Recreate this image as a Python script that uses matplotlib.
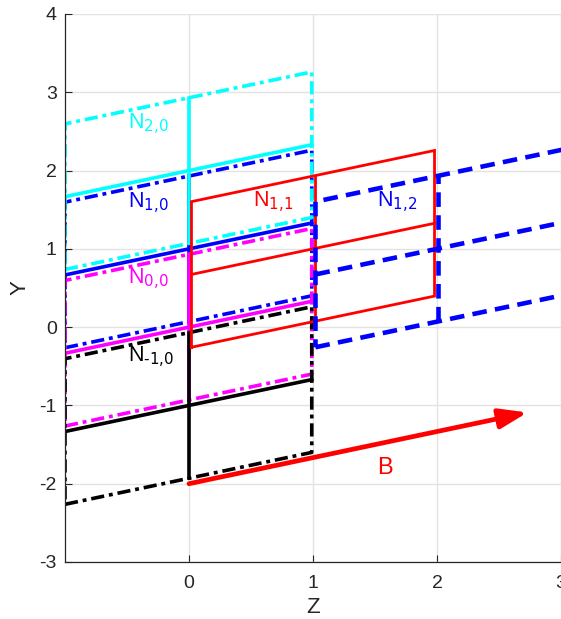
import numpy as np
import matplotlib
matplotlib.use("Agg")
import matplotlib.pyplot as plt

plt.rcParams['font.family'] = ['Liberation Sans', 'DejaVu Sans']
plt.rcParams['mathtext.default'] = 'regular'
plt.rcParams['lines.scale_dashes'] = False
plt.rcParams['axes.unicode_minus'] = False

# ---- data ----
slope = 1.0 / 3.0          # field direction dy/dz
half_h = 0.93              # half height of each cell
cell_i = [1, 2, 0, -1, 1, 1]
cell_j = [0, 0, 0, 0, 1, 2]
cell_colors = ['#0000ff', '#00ffff', '#ff00ff', '#000000', '#ff0000', '#0000ff']
cell_kind = ['dashdot', 'dashdot', 'dashdot', 'dashdot', 'solid', 'dashed']
label_text = [r'$N_{\text{1,0}}$', r'$N_{\text{2,0}}$', r'$N_{\text{0,0}}$',
              r'$N_{\text{-1,0}}$', r'$N_{\text{1,1}}$', r'$N_{\text{1,2}}$']
label_z = [-0.49, -0.49, -0.49, -0.49, 0.52, 1.52]
label_y = [1.52, 2.53, 0.54, -0.45, 1.53, 1.53]
B_start = (0.0, -2.0)
B_end = (2.73, -1.09)
B_label = (1.52, -1.88)
xticks = [0, 1, 2, 3]
yticks = [-3, -2, -1, 0, 1, 2, 3, 4]

fig = plt.figure(figsize=(5.61, 6.19), dpi=100)
ax = fig.add_axes([65/561, 57/619, 496/561, 548/619])
ax.set_xlim(-1, 3)
ax.set_ylim(-3, 4)

# small horizontal nudges so overlapping edges stay visible
nudge = {0: (0.0, 0.0, -0.01), 1: (0.02, 0.02, -0.02), 2: (0.02, 0.01, 0.02)}

def y_at(i, j, z):
    return i + slope * (z - j)

for i, j, col, kind in zip(cell_i, cell_j, cell_colors, cell_kind):
    dl, dc, dr = nudge[j]
    zl, zc, zr = j - 1 + dl, j + dc, j + 1 + dr
    poly_z = [zl, zr, zr, zl, zl]
    poly_y = [y_at(i, j, zl) - half_h, y_at(i, j, zr) - half_h,
              y_at(i, j, zr) + half_h, y_at(i, j, zl) + half_h,
              y_at(i, j, zl) - half_h]
    if kind == 'dashdot':
        lw = 2.6
        ax.plot(poly_z, poly_y, color=col, lw=lw, dashes=[9.5, 3.5, 2.8, 3.5],
                dash_capstyle='butt', solid_joinstyle='miter')
        ax.plot([zl, zr], [y_at(i, j, zl), y_at(i, j, zr)], color=col, lw=lw)
        ax.plot([zc, zc], [y_at(i, j, zc) - half_h, y_at(i, j, zc) + half_h], color=col, lw=lw)
    elif kind == 'solid':
        lw = 2.0
        ax.plot(poly_z, poly_y, color=col, lw=lw, solid_joinstyle='miter')
        ax.plot([zl, zr], [y_at(i, j, zl), y_at(i, j, zr)], color=col, lw=lw)
        ax.plot([zc, zc], [y_at(i, j, zc) - half_h, y_at(i, j, zc) + half_h], color=col, lw=lw)
    else:
        lw = 3.3
        ds = [10.5, 6.0]
        ax.plot(poly_z, poly_y, color=col, lw=lw, dashes=ds, dash_capstyle='butt')
        ax.plot([zl, zr], [y_at(i, j, zl), y_at(i, j, zr)], color=col, lw=lw, dashes=ds,
                dash_capstyle='butt')
        ax.plot([zc, zc], [y_at(i, j, zc) - half_h, y_at(i, j, zc) + half_h], color=col,
                lw=lw, dashes=ds, dash_capstyle='butt')

for t, z, y, col in zip(label_text, label_z, label_y, cell_colors):
    ax.text(z, y, t, color=col, fontsize=15.5, ha='left', va='baseline')

ax.annotate('', xy=B_end, xytext=B_start,
            arrowprops=dict(arrowstyle='-|>,head_length=0.85,head_width=0.3',
                            mutation_scale=20, lw=3.4, color='#ff0000',
                            shrinkA=0, shrinkB=0))
ax.text(B_label[0], B_label[1], 'B', color='#ff0000', fontsize=17, ha='left', va='baseline')

ax.set_xticks(xticks)
ax.set_yticks(yticks)
ax.grid(True, color='#e3e3e3', lw=1.0)
ax.set_axisbelow(True)
for s in ['top', 'right']:
    ax.spines[s].set_visible(False)
for s in ['left', 'bottom']:
    ax.spines[s].set_color('#262626')
    ax.spines[s].set_linewidth(0.9)
ax.tick_params(direction='in', length=5, width=0.8, colors='#262626', labelsize=14)
ax.tick_params(axis='x', pad=9)
ax.tick_params(axis='y', pad=6)
ax.set_xlabel('Z', fontsize=16, color='#262626')
ax.set_ylabel('Y', fontsize=16, color='#262626')
ax.xaxis.set_label_coords(0.5, -0.063)
ax.yaxis.set_label_coords(-0.07, 0.5)

fig.savefig('out.png', dpi=100)
